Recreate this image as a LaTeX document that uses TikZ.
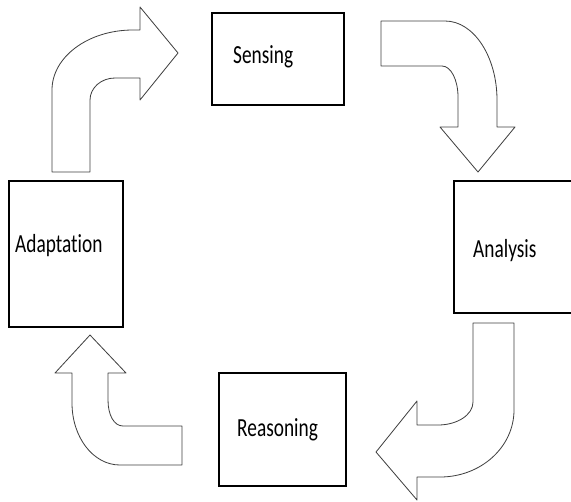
\documentclass[tikz,border=0pt]{standalone}
\usepackage{graphicx}
\usepackage{fontspec}
\setmainfont{Carlito}[Ligatures={NoCommon,NoContextual}]

\tikzset{
  box/.style={draw=black, line width=0.9pt},
  blockarrow/.style={draw=black!75, line width=0.7pt, fill=white, line join=round},
  lbl/.style={inner sep=0pt, anchor=base west, text=black,
    font=\fontsize{16.5}{18}\selectfont},
}
\newcommand{\tall}[1]{\scalebox{1}[1.35]{#1}}

\begin{document}
\begin{tikzpicture}[x=0.03cm,y=-0.03cm]
    \clip (0,0) rectangle (571,501);

    % the four boxes
    \draw[box] (212,13) rectangle (344,105);
    \draw[box] (454,181) rectangle (590,313);
    \draw[box] (219,373) rectangle (346,486);
    \draw[box] (9,181) rectangle (123,327);

    \node[lbl] (sensing) at (233,63) {\tall{Sensing}};
    \node[lbl] (analysis) at (473,257) {\tall{Analysis}};
    \node[lbl] (reasoning) at (237,436) {\tall{Reasoning}};
    \node[lbl] (adaptation) at (15,252) {\tall{Adaptation}};

    % adaptation -> sensing
    \draw[blockarrow] (52,172) -- (52,90) .. controls (52,57) and (88,30) .. (133,30)
        -- (140,30) -- (140,7) -- (178,53) -- (140,100) -- (140,78) -- (115,78)
        .. controls (101,78) and (90,88) .. (90,100) -- (90,172) -- cycle;
    % sensing -> analysis
    \draw[blockarrow] (381,21) -- (445,21) .. controls (474,21) and (497,57) .. (497,100)
        -- (497,127) -- (515,127) -- (478,172) -- (440,127) -- (458,127) -- (458,97)
        .. controls (458,80) and (451,66) .. (442,66) -- (381,66) -- cycle;
    % analysis -> reasoning
    \draw[blockarrow] (473,323) -- (514,323) -- (514,410) .. controls (514,447) and (481,477) .. (440,477)
        -- (417,477) -- (417,500) -- (376,452) -- (417,401) -- (417,425) -- (438,425)
        .. controls (457,425) and (473,415) .. (473,402) -- cycle;
    % reasoning -> adaptation
    \draw[blockarrow] (90,335) -- (126,373) -- (108,373) -- (108,400)
        .. controls (108,415) and (114,426) .. (123,426) -- (182,426) -- (182,465) -- (120,465)
        .. controls (93,465) and (72,437) .. (72,403) -- (72,373) -- (55,373) -- cycle;
\end{tikzpicture}
\end{document}
